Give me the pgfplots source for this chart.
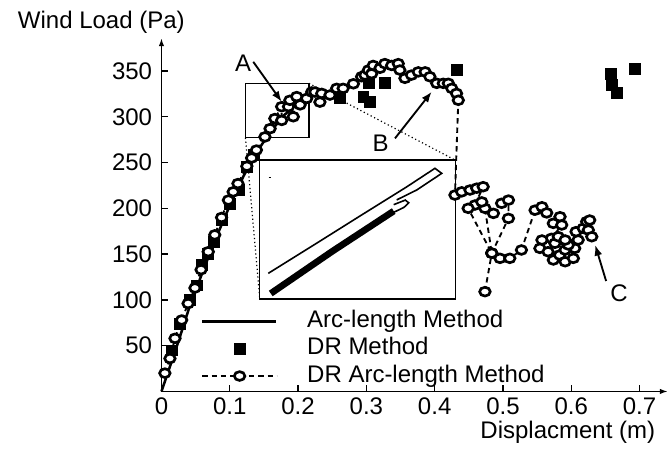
\documentclass[border=0pt]{standalone}
\usepackage{pgfplots}
\pgfplotsset{compat=1.18}
\usepackage{fontspec}
\setmainfont{Liberation Sans}
\usetikzlibrary{arrows.meta}

\pgfplotsset{
  arcline/.style={black, line width=1.9pt,
    legend image code/.code={\draw[line width=1.9pt] (0pt,0pt) -- (55pt,0pt);}},
  drarc/.style={black, line width=1.4pt, dash pattern=on 4pt off 3pt,
    mark=*, mark size=3.3pt,
    mark options={solid, fill=white, draw=black, line width=2pt, xscale=1.2},
    legend image code/.code={\draw[##1, mark repeat=2, mark phase=2]
      plot coordinates {(0pt,0pt) (28pt,0pt) (56pt,0pt)};}},
  drsq/.style={black, only marks, mark=square*, mark size=4.1pt,
    legend image code/.code={\draw[##1] plot coordinates {(28pt,0pt)};}},
}

\begin{document}
\begin{tikzpicture}[font=\fontsize{18}{21.6}\selectfont]
\begin{axis}[
    name=ax,
    scale only axis,
    width=379.9pt, height=265.1pt,
    xmin=0, xmax=0.7416, ymin=0, ymax=386,
    axis lines=left,
    axis line style={line width=1.3pt, -{Latex[length=6pt,width=4pt]}},
    xtick={0,0.1,0.2,0.3,0.4,0.5,0.6,0.7},
    xticklabels={0,0.1,0.2,0.3,0.4,0.5,0.6,0.7},
    ytick={50,100,150,200,250,300,350},
    yticklabels={50,100,150,200,250,300,350},
    tick align=inside,
    major tick length=5pt,
    tick style={line width=1pt, black},
    xticklabel style={yshift=-1.5pt},
    yticklabel style={xshift=-3.5pt},
    every axis y label/.style={at={(rel axis cs:-0.2926,1.045)}, anchor=west},
    every axis x label/.style={at={(rel axis cs:0.984,-0.1146)}, anchor=east},
    ylabel={Wind Load (Pa)},
    xlabel={Displacment (m)},
    clip=false,
    legend style={at={(axis cs:0.0575,88.5)}, anchor=north west, draw=none,
      fill=none, inner sep=0pt, column sep=22pt, row sep=4.5pt,
      nodes={inner sep=0pt, text height=12.5pt, text depth=3.5pt}},
    legend cell align=left,
]
% Arc-length method (solid)
\addplot[arcline]
  coordinates {(0,0) (0.01,22) (0.025,55) (0.04,90) (0.06,130) (0.08,168)
    (0.1,203) (0.12,235) (0.14,262) (0.16,284) (0.18,302) (0.2,315) (0.21,320)};
\addlegendentry{Arc-length Method}

% zoom box A and connectors
\draw[line width=0.9pt] (axis cs:0.123,277) rectangle (axis cs:0.216,336.5);
\draw[line width=0.9pt, dotted] (axis cs:0.123,277) -- (axis cs:0.144,101);
\draw[line width=0.9pt, dotted] (axis cs:0.216,336.5) -- (axis cs:0.43,252.7);

% inset
\draw[line width=0.9pt, fill=white] (axis cs:0.144,101) rectangle (axis cs:0.43,252.7);
\addplot[black, line width=1.2pt, forget plot] coordinates {
  (0.1564,129.0) (0.2272,161.9) (0.2906,191.6) (0.359,223.4) (0.4004,243.7)
  (0.4103,238.2) (0.403,234.5) (0.3737,220) (0.3444,209.2)};
\addplot[black, line width=5pt, forget plot] coordinates {
  (0.160,107) (0.25,153) (0.34,197)};
\addplot[black, line width=1.2pt, forget plot] coordinates {
  (0.33,192) (0.355,201) (0.362,206) (0.357,209) (0.34,204)};
\addplot[black, line width=1pt, forget plot] coordinates {(0.157,233.4) (0.161,233.4)};

% DR method (squares)
\addplot[drsq]
  coordinates {(0.015,45) (0.027,74) (0.042,100) (0.0515,116) (0.059,138)
    (0.068,150) (0.076,163) (0.088,187) (0.1,205) (0.1125,220) (0.1247,245)
    (0.135,258) (0.261,321) (0.2955,322)
    (0.305,316) (0.303,337) (0.327,337) (0.432,351)
    (0.658,347) (0.659,335) (0.666,326) (0.693,352)};
\addlegendentry{DR Method}

% DR arc-length method (dashed with circles)
\addplot[drarc]
  coordinates {(0.005,20) (0.0124,36) (0.0198,58) (0.0296,78) (0.039,96)
    (0.049,113) (0.058,133) (0.0685,152.6) (0.078,171) (0.088,190) (0.098,209)
    (0.105,218) (0.112,227) (0.125,246) (0.132,255) (0.139,263.6)
    (0.1515,278) (0.159,287) (0.166,298) (0.176,311) (0.176,296) (0.186,311)
    (0.188,318) (0.193,300) (0.198,322) (0.203,313) (0.2126,320) (0.22,327)
    (0.2247,327) (0.232,316) (0.2346,325.5) (0.2467,323.7) (0.2565,331)
    (0.266,331) (0.281,336) (0.293,343.7) (0.298,345.5) (0.303,351)
    (0.3077,347) (0.310,356) (0.320,353) (0.327,358) (0.337,356) (0.3467,358)
    (0.349,351) (0.3565,342) (0.366,345.5) (0.376,349) (0.386,349)
    (0.393,343.7) (0.403,336.5) (0.4126,336.5) (0.42,336.5) (0.425,331)
    (0.432,325.5) (0.4346,318)
    (0.4297,214.5) (0.4395,218) (0.4517,220) (0.4615,222) (0.471,223.6)
    (0.459,203.6) (0.449,200) (0.4836,151) (0.4736,200) (0.469,207)
    (0.486,194.5) (0.498,205.5) (0.508,209) (0.508,189) (0.4836,151)
    (0.4956,145.4) (0.510,145.4) (0.527,154.5) (0.547,198) (0.557,201.7)
    (0.564,195) (0.5737,183.6) (0.5835,190.8) (0.586,181.8) (0.571,167.2)
    (0.557,165.4) (0.554,156.3) (0.566,152.6) (0.5737,143.6) (0.583,149)
    (0.591,141.7) (0.603,145.4) (0.605,156.3) (0.591,154.5) (0.5956,160)
    (0.576,161.8) (0.581,169) (0.591,165.4) (0.610,165.4) (0.607,174.5)
    (0.6175,178.2) (0.6225,185.4) (0.627,187.2) (0.625,176.3) (0.630,169)};
\addlegendentry{DR Arc-length Method}
\addplot[drarc, forget plot] coordinates {(0.4736,109) (0.4836,151)};

% annotations
\draw[line width=1.4pt, -{Latex[length=8pt,width=6pt]}]
  (axis cs:0.1344,360) -- (axis cs:0.176,316.4);
\node at (axis cs:0.1197,358.3) {A};
\draw[line width=1.4pt, -{Latex[length=8pt,width=6pt]}]
  (axis cs:0.3419,276.4) -- (axis cs:0.3956,327.3);
\node at (axis cs:0.321,271) {B};
\draw[line width=1.4pt, -{Latex[length=8pt,width=6pt]}]
  (axis cs:0.651,120.6) -- (axis cs:0.635,160);
\node at (axis cs:0.670,107.5) {C};
\end{axis}
\pgfresetboundingbox
\path ([shift={(-121.1pt,-43.9pt)}]ax.south west) rectangle ([shift={(3pt,28.5pt)}]ax.north east);
\end{tikzpicture}
\end{document}
